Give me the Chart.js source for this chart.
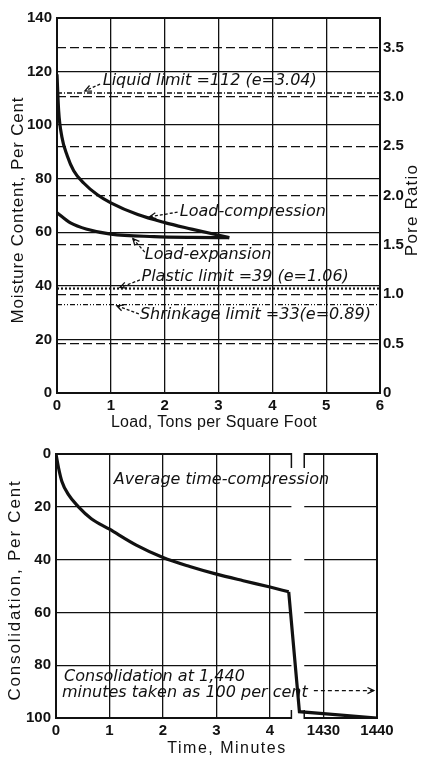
<!DOCTYPE html>
<html>
<head>
<meta charset="utf-8">
<script src="https://cdn.jsdelivr.net/npm/chart.js@4.4.1/dist/chart.umd.min.js"></script>
<style>
  html, body { margin: 0; padding: 0; background: #fff; }
  #wrap { position: relative; width: 423px; height: 757px; }
  canvas { position: absolute; left: 0; }
  #loadChart { top: 0; }
  #timeChart { top: 440px; }
</style>
</head>
<body>
<div id="wrap">
  <canvas id="loadChart" width="423" height="440"></canvas>
  <canvas id="timeChart" width="423" height="317"></canvas>
</div>
<script>
// Load test: moisture content against load
const compressionLoad = [0, 0.03, 0.09, 0.19, 0.31, 0.5, 0.75, 1.0, 1.5, 2.0, 2.5, 3.2];
const compressionMoisture = [119, 105.5, 95.7, 88.6, 83, 78.3, 74, 71, 66.6, 63.6, 61.2, 58];
const expansionLoad = [0, 0.25, 0.56, 1.0, 1.8, 2.5, 3.2];
const expansionMoisture = [67.3, 63.5, 61.1, 59.3, 58.4, 58.1, 58];

const limitNames = ['Liquid limit', 'Plastic limit', 'Shrinkage limit'];
const limitMoisture = [112, 39, 33];
const limitPoreRatio = [3.04, 1.06, 0.89];

const loadTicks = [0, 1, 2, 3, 4, 5, 6];
const moistureTicks = [0, 20, 40, 60, 80, 100, 120, 140];
const poreTicks = [0, 0.5, 1.0, 1.5, 2.0, 2.5, 3.0, 3.5];

// Time test: consolidation against elapsed time (axis broken after 4 min)
const elapsedMinutes = [0, 0.05, 0.11, 0.23, 0.42, 0.66, 1.0, 1.5, 2.0, 2.5, 3.0, 3.5, 4.0, 4.35, 1425.5, 1440];
const consolidation = [0, 5.5, 10.4, 15.3, 20, 24.5, 28.5, 34.5, 39.2, 42.6, 45.5, 48, 50.4, 52.2, 97.6, 100];
const kneeIndex = 13;
const timeTickLabels = ['0', '1', '2', '3', '4', '1430', '1440'];
const consolidationTicks = [0, 20, 40, 60, 80, 100];

const INK = '#111';
const LETTERING = "'Liberation Sans', Arial, sans-serif";
const NOTE_FONT = "italic 16px 'DejaVu Sans', sans-serif";

Chart.defaults.color = INK;
Chart.defaults.font.family = LETTERING;
Chart.defaults.animation = false;

// minutes -> position on the broken axis (0-4 linear, then 1430 at 5, 1440 at 6)
function timeAxisPos(t) {
  return t < 100 ? t : 5 + (t - 1430) / 10;
}

function drawArrow(ctx, x1, y1, x2, y2, dash) {
  ctx.beginPath();
  ctx.setLineDash(dash || [3, 2]);
  ctx.moveTo(x1, y1);
  ctx.lineTo(x2, y2);
  ctx.stroke();
  ctx.setLineDash([]);
  const ang = Math.atan2(y2 - y1, x2 - x1);
  const len = 7;
  ctx.beginPath();
  ctx.moveTo(x2 - len * Math.cos(ang - 0.45), y2 - len * Math.sin(ang - 0.45));
  ctx.lineTo(x2, y2);
  ctx.lineTo(x2 - len * Math.cos(ang + 0.45), y2 - len * Math.sin(ang + 0.45));
  ctx.stroke();
}

const frameAndNotes = {
  id: 'frameAndNotes',
  beforeDatasetsDraw(chart, args, opts) {
    const { ctx, chartArea: a } = chart;
    ctx.save();
    ctx.strokeStyle = INK;
    ctx.lineWidth = 2;
    ctx.strokeRect(a.left, a.top, a.right - a.left, a.bottom - a.top);
    if (opts.axisBreak) {
      const sx = chart.scales.x;
      const x1 = sx.getPixelForValue(opts.axisBreak[0]);
      const x2 = sx.getPixelForValue(opts.axisBreak[1]);
      ctx.fillStyle = '#fff';
      ctx.fillRect(x1, a.top - 2, x2 - x1, a.bottom - a.top + 4);
      ctx.lineWidth = 1.5;
      ctx.beginPath();
      [x1, x2].forEach(x => {
        ctx.moveTo(x, a.top - 1); ctx.lineTo(x, a.top + 14);
        ctx.moveTo(x, a.bottom - 8); ctx.lineTo(x, a.bottom + 1);
      });
      ctx.stroke();
    }
    ctx.restore();
  },
  afterDatasetsDraw(chart, args, opts) {
    const { ctx } = chart;
    const sx = chart.scales.x, sy = chart.scales.y;
    ctx.save();
    ctx.fillStyle = INK;
    ctx.strokeStyle = INK;
    ctx.lineWidth = 1.3;
    ctx.font = NOTE_FONT;
    ctx.textBaseline = 'middle';
    ctx.textAlign = 'left';
    (opts.notes || []).forEach(n => {
      ctx.fillText(n.text, sx.getPixelForValue(n.x), sy.getPixelForValue(n.y));
    });
    (opts.arrows || []).forEach(r => {
      drawArrow(ctx,
        sx.getPixelForValue(r.from[0]), sy.getPixelForValue(r.from[1]),
        sx.getPixelForValue(r.to[0]), sy.getPixelForValue(r.to[1]), r.dash);
    });
    ctx.restore();
  },
  afterDraw(chart, args, opts) {
    // axis titles, drawn here so the lettering can be spaced out
    const { ctx } = chart;
    (opts.titles || []).forEach(t => {
      ctx.save();
      ctx.fillStyle = INK;
      ctx.font = t.size + 'px ' + LETTERING;
      ctx.letterSpacing = (t.spacing || 0) + 'px';
      ctx.textAlign = 'center';
      ctx.textBaseline = 'middle';
      ctx.translate(t.x, t.y);
      if (t.vertical) ctx.rotate(-Math.PI / 2);
      ctx.fillText(t.text, 0, 0);
      ctx.restore();
    });
  }
};

function toPoints(xs, ys) {
  return xs.map((x, i) => ({ x: x, y: ys[i] }));
}

const tickFont = { size: 15, weight: 'bold' };
const gridStyle = { color: INK, lineWidth: 1.3, drawTicks: false };
const borderStyle = { color: INK, width: 2 };

// ---------- load / moisture chart ----------
const poreMax = 140 * limitPoreRatio[0] / limitMoisture[0];
const limitDash = [[5, 2, 1, 2], [2, 2], [5, 2, 1, 2, 1, 2]];
const limitWidth = [1.5, 2.2, 1.4];

const limitSets = limitNames.map((name, i) => ({
  label: name,
  data: toPoints([0, 6], [limitMoisture[i], limitMoisture[i]]),
  borderColor: INK,
  borderWidth: limitWidth[i],
  borderDash: limitDash[i],
  pointRadius: 0
}));

new Chart(document.getElementById('loadChart'), {
  type: 'line',
  data: {
    datasets: [
      {
        label: 'Load-compression',
        data: toPoints(compressionLoad, compressionMoisture),
        borderColor: INK, borderWidth: 3.2, pointRadius: 0,
        cubicInterpolationMode: 'monotone'
      },
      {
        label: 'Load-expansion',
        data: toPoints(expansionLoad, expansionMoisture),
        borderColor: INK, borderWidth: 3.2, pointRadius: 0,
        cubicInterpolationMode: 'monotone'
      },
      ...limitSets
    ]
  },
  options: {
    responsive: false,
    layout: { padding: { top: 18, left: 0, right: 0, bottom: 0 } },
    plugins: {
      legend: { display: false },
      tooltip: { enabled: false },
      frameAndNotes: {
        notes: [
          { text: 'Liquid limit =112 (e=3.04)', x: 0.85, y: 116.5 },
          { text: 'Load-compression', x: 2.28, y: 67.5 },
          { text: 'Load-expansion', x: 1.63, y: 51.5 },
          { text: 'Plastic limit =39 (e=1.06)', x: 1.57, y: 43.2 },
          { text: 'Shrinkage limit =33(e=0.89)', x: 1.54, y: 29 }
        ],
        arrows: [
          { from: [0.8, 115.3], to: [0.52, 112.8] },
          { from: [2.24, 67.5], to: [1.72, 65.8] },
          { from: [1.63, 52.6], to: [1.41, 57.6] },
          { from: [1.54, 42.2], to: [1.17, 39.4] },
          { from: [1.52, 29.5], to: [1.11, 32.6] }
        ],
        titles: [
          { text: 'Moisture Content, Per Cent', x: 18, y: 210, size: 17, spacing: 0.8, vertical: true },
          { text: 'Pore Ratio', x: 412, y: 210, size: 17, spacing: 1.2, vertical: true },
          { text: 'Load, Tons per Square Foot', x: 214, y: 423, size: 16, spacing: 0.3 }
        ]
      }
    },
    scales: {
      x: {
        type: 'linear', min: 0, max: 6,
        afterBuildTicks: s => { s.ticks = loadTicks.map(v => ({ value: v })); },
        afterFit: s => { s.height = 47; },
        grid: gridStyle, border: borderStyle,
        ticks: { font: tickFont, padding: 4 }
      },
      y: {
        type: 'linear', min: 0, max: 140,
        afterBuildTicks: s => { s.ticks = moistureTicks.map(v => ({ value: v })); },
        afterFit: s => { s.width = 57; },
        grid: gridStyle, border: borderStyle,
        ticks: { font: tickFont, padding: 5 }
      },
      y2: {
        type: 'linear', position: 'right', min: 0, max: poreMax,
        afterBuildTicks: s => { s.ticks = poreTicks.map(v => ({ value: v })); },
        afterFit: s => { s.width = 43; },
        grid: { color: INK, lineWidth: 1.3, drawTicks: false, drawOnChartArea: true },
        border: { color: INK, width: 2, dash: [9, 4] },
        ticks: { font: tickFont, padding: 3, callback: v => (v === 0 ? '0' : v.toFixed(1)) }
      }
    }
  },
  plugins: [frameAndNotes]
});

// ---------- time / consolidation chart ----------
const timePoints = toPoints(elapsedMinutes.map(timeAxisPos), consolidation);

new Chart(document.getElementById('timeChart'), {
  type: 'line',
  data: {
    datasets: [
      {
        label: 'Average time-compression',
        data: timePoints.slice(0, kneeIndex + 1),
        borderColor: INK, borderWidth: 3.2, pointRadius: 0,
        cubicInterpolationMode: 'monotone'
      },
      {
        label: 'Average time-compression (final)',
        data: timePoints.slice(kneeIndex),
        borderColor: INK, borderWidth: 3.2, pointRadius: 0,
        tension: 0
      }
    ]
  },
  options: {
    responsive: false,
    layout: { padding: { top: 10, left: 0, right: 46, bottom: 0 } },
    plugins: {
      legend: { display: false },
      tooltip: { enabled: false },
      frameAndNotes: {
        axisBreak: [4.4, 4.64],
        notes: [
          { text: 'Average time-compression', x: 1.08, y: 9.7 },
          { text: 'Consolidation at 1,440', x: 0.15, y: 84.3 },
          { text: 'minutes taken as 100 per cent', x: 0.11, y: 90.3 }
        ],
        arrows: [
          { from: [4.82, 89.6], to: [5.94, 89.6], dash: [4, 3] }
        ],
        titles: [
          { text: 'Consolidation, Per Cent', x: 15, y: 150, size: 17, spacing: 1.8, vertical: true },
          { text: 'Time, Minutes', x: 227, y: 309, size: 16, spacing: 1.5 }
        ]
      }
    },
    scales: {
      x: {
        type: 'linear', min: 0, max: 6,
        afterBuildTicks: s => { s.ticks = timeTickLabels.map((t, i) => ({ value: i })); },
        afterFit: s => { s.height = 39; },
        grid: gridStyle, border: borderStyle,
        ticks: { font: tickFont, padding: 4, callback: (v, i) => timeTickLabels[i] }
      },
      y: {
        type: 'linear', min: 0, max: 100, reverse: true,
        afterBuildTicks: s => { s.ticks = consolidationTicks.map(v => ({ value: v })); },
        afterFit: s => { s.width = 56; },
        grid: gridStyle, border: borderStyle,
        ticks: { font: tickFont, padding: 5 }
      }
    }
  },
  plugins: [frameAndNotes]
});
</script>
</body>
</html>
